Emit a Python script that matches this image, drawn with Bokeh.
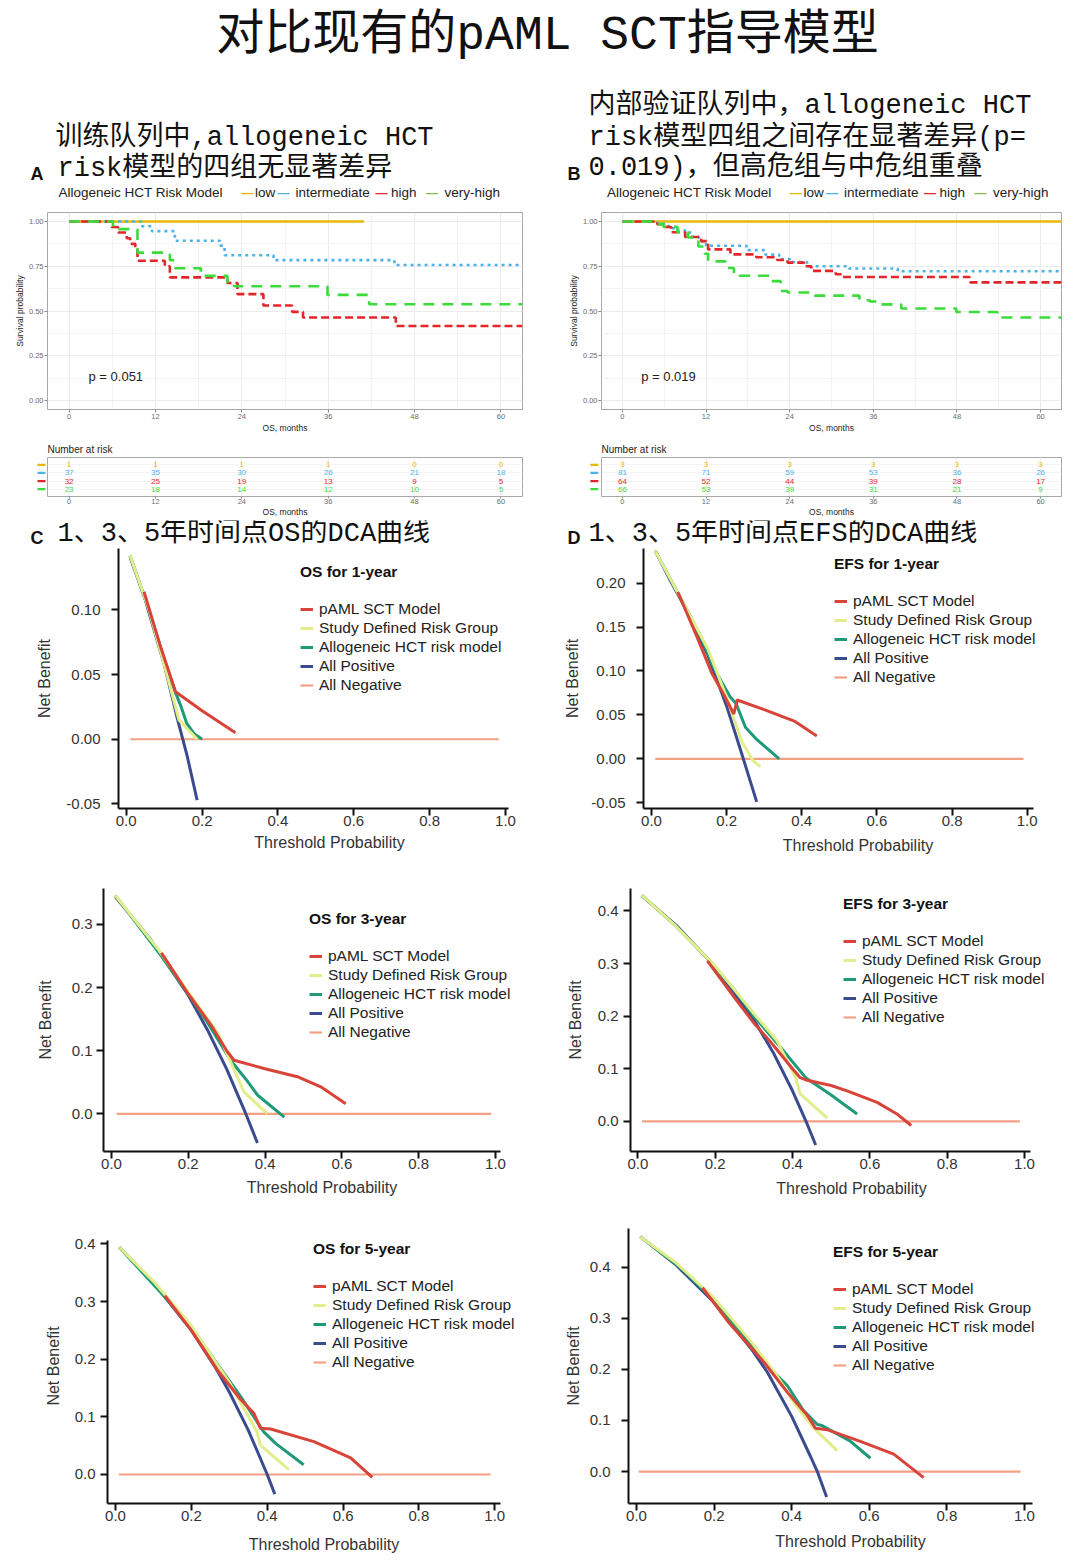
from bokeh.plotting import figure
from bokeh.layouts import column, row
from bokeh.models import (Range1d, FactorRange, FixedTicker, NumeralTickFormatter,
                          Legend, LegendItem)
from bokeh.embed import file_html
from bokeh.resources import INLINE
from bokeh.core.properties import value

# ---------------------------------------------------------------- texts
TITLE = "对比现有的pAML SCT指导模型"
HEAD_A = ["训练队列中,allogeneic HCT", "risk模型的四组无显著差异"]
HEAD_B = ["内部验证队列中，allogeneic HCT", "risk模型四组之间存在显著差异(p=",
          "0.019)，但高危组与中危组重叠"]
HEAD_C = "1、3、5年时间点OS的DCA曲线"
HEAD_D = "1、3、5年时间点EFS的DCA曲线"
KM_LEGEND_TITLE = "Allogeneic HCT Risk Model"
GROUPS = ["low", "intermediate", "high", "very-high"]
PVAL_A = "p = 0.051"
PVAL_B = "p = 0.019"

# ---------------------------------------------------------------- KM data (training, A)
A_LOW_T = [0, 41]
A_LOW_S = [1.0, 1.0]
A_INT_T = [0, 10, 11.5, 14.7, 21, 21.6, 28.4, 45.2, 63]
A_INT_S = [1.0, 0.973, 0.946, 0.892, 0.865, 0.811, 0.784, 0.757, 0.757]
A_HIGH_T = [0, 5.9, 6.8, 8, 8.5, 9.2, 9.5, 13.3, 14, 22, 23.4, 27, 31, 32.5, 45.4, 63]
A_HIGH_S = [1.0, 0.969, 0.938, 0.906, 0.875, 0.844, 0.781, 0.75, 0.688, 0.656, 0.594,
            0.531, 0.495, 0.464, 0.416, 0.416]
A_VH_T = [0, 6.1, 9.5, 14, 14.7, 18.3, 22, 22.9, 35.9, 41.7, 63]
A_VH_S = [1.0, 0.957, 0.826, 0.783, 0.739, 0.696, 0.652, 0.638, 0.59, 0.538, 0.538]

# ---------------------------------------------------------------- KM data (validation, B)
B_LOW_T = [0, 63]
B_LOW_S = [1.0, 1.0]
B_INT_T = [0, 5, 6, 7, 8, 9, 10, 11, 12, 17.8, 20.5, 22.5, 24, 26.5, 32.5, 39.5, 63]
B_INT_S = [1.0, 0.988, 0.975, 0.963, 0.951, 0.938, 0.914, 0.889, 0.864, 0.84, 0.815,
           0.79, 0.774, 0.75, 0.737, 0.722, 0.722]
B_HIGH_T = [0, 5, 6, 7, 9, 11.3, 12.3, 15.5, 19.2, 22.2, 23.7, 26.1, 27.1, 30.6, 31.6, 49.8, 63]
B_HIGH_S = [1.0, 0.984, 0.969, 0.94, 0.913, 0.89, 0.844, 0.816, 0.80, 0.785, 0.77, 0.75,
            0.724, 0.705, 0.69, 0.66, 0.66]
B_VH_T = [0, 4.4, 5.9, 7.9, 9.4, 10.9, 11.8, 12.3, 14.8, 16, 16.8, 21.2, 22.7, 23.7, 27.1,
          34, 35.5, 37, 40, 47.9, 53.8, 63]
B_VH_S = [1.0, 0.985, 0.97, 0.94, 0.91, 0.86, 0.82, 0.777, 0.74, 0.712, 0.697, 0.667, 0.612,
          0.603, 0.586, 0.56, 0.553, 0.537, 0.514, 0.494, 0.464, 0.464]

# ---------------------------------------------------------------- numbers at risk
RISK_TIMES = [0, 12, 24, 36, 48, 60]
A_RISK_LOW = [1, 1, 1, 1, 0, 0]
A_RISK_INT = [37, 35, 30, 26, 21, 18]
A_RISK_HIGH = [32, 25, 19, 13, 9, 5]
A_RISK_VH = [23, 18, 14, 12, 10, 5]
B_RISK_LOW = [3, 3, 3, 3, 3, 3]
B_RISK_INT = [81, 71, 59, 53, 36, 26]
B_RISK_HIGH = [64, 52, 44, 39, 28, 17]
B_RISK_VH = [66, 53, 39, 31, 21, 9]

# ---------------------------------------------------------------- DCA data
DCA_LABELS = ["pAML SCT Model", "Study Defined Risk Group", "Allogeneic HCT risk model",
              "All Positive", "All Negative"]

OS1_PAML_T = [0.047, 0.09, 0.13, 0.2, 0.288]
OS1_PAML_NB = [0.114, 0.072, 0.0367, 0.022, 0.005]
OS1_STUDY_T = [0.01, 0.06, 0.10, 0.139, 0.187]
OS1_STUDY_NB = [0.142, 0.10, 0.058, 0.015, 0.0]
OS1_ALLO_T = [0.01, 0.06, 0.10, 0.13, 0.145, 0.16, 0.18, 0.2]
OS1_ALLO_NB = [0.142, 0.10, 0.062, 0.036, 0.025, 0.012, 0.004, 0.0]
OS1_POS_T = [0.01, 0.05, 0.10, 0.134, 0.16, 0.187]
OS1_POS_NB = [0.141, 0.108, 0.058, 0.017, -0.012, -0.047]
OS1_NEG_T = [0.011, 0.982]

EFS1_PAML_T = [0.07, 0.12, 0.16, 0.19, 0.219, 0.228, 0.30, 0.38, 0.44]
EFS1_PAML_NB = [0.19, 0.14, 0.098, 0.075, 0.051, 0.067, 0.056, 0.043, 0.026]
EFS1_STUDY_T = [0.01, 0.1, 0.15, 0.2, 0.24, 0.27, 0.29]
EFS1_STUDY_NB = [0.237, 0.165, 0.125, 0.07, 0.02, -0.002, -0.009]
EFS1_ALLO_T = [0.01, 0.1, 0.13, 0.17, 0.21, 0.225, 0.25, 0.28, 0.34]
EFS1_ALLO_NB = [0.237, 0.165, 0.14, 0.10, 0.07, 0.063, 0.036, 0.022, 0.0]
EFS1_POS_T = [0.01, 0.05, 0.1, 0.15, 0.2, 0.24, 0.28]
EFS1_POS_NB = [0.237, 0.203, 0.164, 0.118, 0.06, 0.006, -0.049]
EFS1_NEG_T = [0.01, 0.99]

OS3_PAML_T = [0.13, 0.2, 0.26, 0.3, 0.319, 0.397, 0.484, 0.545, 0.61]
OS3_PAML_NB = [0.255, 0.19, 0.14, 0.10, 0.085, 0.072, 0.059, 0.043, 0.016]
OS3_STUDY_T = [0.01, 0.12, 0.2, 0.276, 0.345, 0.406]
OS3_STUDY_NB = [0.346, 0.262, 0.193, 0.129, 0.035, 0.0]
OS3_ALLO_T = [0.01, 0.13, 0.2, 0.25, 0.31, 0.35, 0.38, 0.45]
OS3_ALLO_NB = [0.346, 0.25, 0.19, 0.145, 0.085, 0.055, 0.03, -0.005]
OS3_POS_T = [0.01, 0.1, 0.2, 0.25, 0.3, 0.35, 0.38]
OS3_POS_NB = [0.344, 0.278, 0.188, 0.133, 0.071, 0.0, -0.046]
OS3_NEG_T = [0.013, 0.989]

EFS3_PAML_T = [0.18, 0.25, 0.3, 0.35, 0.4, 0.42, 0.438, 0.5, 0.541, 0.619, 0.67, 0.707]
EFS3_PAML_NB = [0.305, 0.235, 0.187, 0.145, 0.10, 0.083, 0.078, 0.068, 0.058, 0.036, 0.014, -0.008]
EFS3_STUDY_T = [0.01, 0.1, 0.2, 0.3, 0.36, 0.408, 0.42, 0.49]
EFS3_STUDY_NB = [0.43, 0.37, 0.295, 0.205, 0.153, 0.083, 0.052, 0.006]
EFS3_ALLO_T = [0.01, 0.1, 0.18, 0.25, 0.3, 0.37, 0.434, 0.5, 0.567]
EFS3_ALLO_NB = [0.43, 0.37, 0.31, 0.25, 0.2, 0.14, 0.083, 0.05, 0.014]
EFS3_POS_T = [0.01, 0.1, 0.2, 0.3, 0.35, 0.4, 0.435, 0.46]
EFS3_POS_NB = [0.429, 0.372, 0.294, 0.193, 0.131, 0.058, 0.0, -0.045]
EFS3_NEG_T = [0.011, 0.988]

OS5_PAML_T = [0.13, 0.2, 0.27, 0.33, 0.365, 0.382, 0.409, 0.523, 0.62, 0.677]
OS5_PAML_NB = [0.31, 0.25, 0.18, 0.13, 0.106, 0.08, 0.079, 0.057, 0.029, -0.005]
OS5_STUDY_T = [0.01, 0.1, 0.2, 0.3, 0.373, 0.382, 0.457]
OS5_STUDY_NB = [0.394, 0.335, 0.258, 0.16, 0.074, 0.051, 0.0086]
OS5_ALLO_T = [0.01, 0.12, 0.2, 0.27, 0.33, 0.391, 0.422, 0.496]
OS5_ALLO_NB = [0.394, 0.315, 0.255, 0.19, 0.135, 0.074, 0.054, 0.017]
OS5_POS_T = [0.01, 0.1, 0.2, 0.264, 0.3, 0.35, 0.4, 0.42]
OS5_POS_NB = [0.394, 0.333, 0.25, 0.185, 0.143, 0.077, 0.0, -0.034]
OS5_NEG_T = [0.009, 0.989]

EFS5_PAML_T = [0.17, 0.24, 0.328, 0.388, 0.44, 0.461, 0.491, 0.577, 0.663, 0.74]
EFS5_PAML_NB = [0.36, 0.29, 0.2145, 0.156, 0.11, 0.085, 0.082, 0.059, 0.034, -0.012]
EFS5_STUDY_T = [0.01, 0.1, 0.2, 0.3, 0.36, 0.41, 0.457, 0.517]
EFS5_STUDY_NB = [0.46, 0.41, 0.34, 0.25, 0.19, 0.13, 0.085, 0.041]
EFS5_ALLO_T = [0.01, 0.12, 0.18, 0.3, 0.34, 0.388, 0.43, 0.466, 0.478, 0.55, 0.603]
EFS5_ALLO_NB = [0.46, 0.395, 0.35, 0.245, 0.205, 0.169, 0.12, 0.092, 0.09, 0.06, 0.026]
EFS5_POS_T = [0.01, 0.1, 0.2, 0.3, 0.337, 0.4, 0.45, 0.466, 0.49]
EFS5_POS_NB = [0.46, 0.406, 0.331, 0.236, 0.195, 0.108, 0.027, 0.0, -0.05]
EFS5_NEG_T = [0.006, 0.99]

DCA_X_TICKS = [0.0, 0.2, 0.4, 0.6, 0.8, 1.0]

# ---------------------------------------------------------------- styles
SANS = "Liberation Sans"
HEADF = "'Liberation Mono', 'Noto Sans CJK SC'"
KM_COLORS = {"low": "#E7B800", "intermediate": "#4DB3E6", "high": "#E3262A", "very-high": "#3ADB3A"}
KM_KEY_COLORS = {"low": "#E7B800", "intermediate": "#4DB3E6", "high": "#E3262A", "very-high": "#8DBE55"}
KM_DASH = {"low": "solid", "intermediate": "3 4", "high": "8 4", "very-high": "11 8"}
C_PAML, C_STUDY, C_ALLO, C_POS, C_NEG = "#D8433A", "#E2ED8C", "#1E9A78", "#3A4B8E", "#F4A084"


def canvas(w, h):
    p = figure(width=w, height=h, x_range=Range1d(0, w), y_range=Range1d(h, 0),
               toolbar_location=None, output_backend="svg", min_border=0,
               x_axis_location=None, y_axis_location=None)
    p.grid.visible = False
    p.outline_line_color = None
    p.background_fill_color = None
    p.border_fill_color = None
    return p


def put(p, x, y, txt, size, font=SANS, color="#111", style="normal", align="left"):
    p.text(x=[x], y=[y], text=[txt], text_font=value(font), text_font_size=f"{size}px",
           text_color=color, text_font_style=style, text_align=align, text_baseline="middle")


# ---------------------------------------------------------------- band 1: header (0-202)
hdr = canvas(1080, 202)
put(hdr, 547, 35, TITLE, 48, HEADF, "#111", align="center")
put(hdr, 55, 137, HEAD_A[0], 27, HEADF)
put(hdr, 57, 168, HEAD_A[1], 27, HEADF)
put(hdr, 30, 173, "A", 18, SANS, "#111", "bold")
for line, yy in zip(HEAD_B, [105, 137, 167]):
    put(hdr, 588, yy, line, 27, HEADF)
put(hdr, 567, 173, "B", 18, SANS, "#111", "bold")

LEG_OFFS = {"low": (188.7, 196.5), "intermediate": (225, 237), "high": (323, 332.5),
            "very-high": (373.5, 386)}
for x0 in (58, 606.6):
    put(hdr, x0, 192, KM_LEGEND_TITLE, 13.5, SANS, "#222")
    for g in GROUPS:
        dx, lx = LEG_OFFS[g]
        put(hdr, x0 + dx, 192, "—", 12, SANS, KM_KEY_COLORS[g], "bold", align="center")
        put(hdr, x0 + lx, 192, g, 13.5, SANS, "#222")


# ---------------------------------------------------------------- band 2: KM curves (202-436)
def km_fig(width, left, right, curves, pval):
    p = figure(width=width, height=234, x_range=Range1d(-3, 63), y_range=Range1d(-0.05, 1.05),
               toolbar_location=None, output_backend="svg", min_border_left=left,
               min_border_right=right, min_border_top=10, min_border_bottom=27)
    p.xaxis.ticker = FixedTicker(ticks=RISK_TIMES, minor_ticks=[6, 18, 30, 42, 54])
    p.yaxis.ticker = FixedTicker(ticks=[0, 0.25, 0.5, 0.75, 1.0],
                                 minor_ticks=[0.125, 0.375, 0.625, 0.875])
    p.yaxis.formatter = NumeralTickFormatter(format="0.00")
    p.xaxis.axis_label = "OS, months"
    p.yaxis.axis_label = "Survival probability"
    for ax in (p.xaxis, p.yaxis):
        ax.axis_line_color = None
        ax.major_tick_line_color = "#8A8A8A"
        ax.major_tick_out = 3
        ax.major_tick_in = 0
        ax.minor_tick_out = 0
        ax.minor_tick_in = 0
        ax.major_label_text_font = SANS
        ax.major_label_text_font_size = "7.5px"
        ax.major_label_text_color = "#6B6B6B"
        ax.major_label_standoff = 1
        ax.axis_label_text_font = SANS
        ax.axis_label_text_font_size = "8.5px"
        ax.axis_label_text_font_style = "normal"
        ax.axis_label_text_color = "#222"
        ax.axis_label_standoff = 1
    p.grid.grid_line_color = "#EBEBEB"
    p.grid.minor_grid_line_color = "#F4F4F4"
    p.outline_line_color = "#A8A8A8"
    p.outline_line_width = 1
    for g, (t, s) in zip(GROUPS, curves):
        p.step(x=t, y=s, mode="after", line_color=KM_COLORS[g], line_width=2.6,
               line_dash=KM_DASH[g])
    p.text(x=[2.7], y=[0.133], text=[pval], text_font=value(SANS), text_font_size="13px",
           text_color="#222", text_baseline="middle", text_align="left")
    return p


kmA = km_fig(548, 47, 26, [(A_LOW_T, A_LOW_S), (A_INT_T, A_INT_S), (A_HIGH_T, A_HIGH_S),
                           (A_VH_T, A_VH_S)], PVAL_A)
kmB = km_fig(532, 53, 19, [(B_LOW_T, B_LOW_S), (B_INT_T, B_INT_S), (B_HIGH_T, B_HIGH_S),
                           (B_VH_T, B_VH_S)], PVAL_B)

# ---------------------------------------------------------------- band 3: risk tables (436-520)
ROW_ORDER = ["very-high", "high", "intermediate", "low"]


def dash_fig(width, x0, x1):
    p = figure(width=width, height=84, x_range=Range1d(0, 1),
               y_range=FactorRange(factors=ROW_ORDER, range_padding=0.4,
                                   range_padding_units="absolute"),
               toolbar_location=None, output_backend="svg", min_border_left=0,
               min_border_right=0, min_border_top=21, min_border_bottom=24,
               x_axis_location=None, y_axis_location=None)
    p.grid.visible = False
    p.outline_line_color = None
    p.segment(x0=[x0] * 4, x1=[x1] * 4, y0=GROUPS, y1=GROUPS,
              line_color=[KM_COLORS[g] for g in GROUPS], line_width=2.2)
    return p


def table_fig(width, right, counts):
    p = figure(width=width, height=84, x_range=Range1d(-3, 63),
               y_range=FactorRange(factors=ROW_ORDER, range_padding=0.4,
                                   range_padding_units="absolute"),
               toolbar_location=None, output_backend="svg", min_border_left=0,
               min_border_right=right, min_border_top=21, min_border_bottom=24,
               y_axis_location=None, title="Number at risk")
    p.title.align = "left"
    p.title.text_font = SANS
    p.title.text_font_size = "10px"
    p.title.text_font_style = "normal"
    p.title.text_color = "#222"
    p.title.standoff = 5
    p.xaxis.ticker = FixedTicker(ticks=RISK_TIMES)
    p.xaxis.axis_label = "OS, months"
    ax = p.xaxis
    ax.axis_line_color = None
    ax.major_tick_line_color = "#8A8A8A"
    ax.major_tick_out = 2
    ax.major_tick_in = 0
    ax.major_label_text_font = SANS
    ax.major_label_text_font_size = "7.5px"
    ax.major_label_text_color = "#6B6B6B"
    ax.major_label_standoff = 0
    ax.axis_label_text_font = SANS
    ax.axis_label_text_font_size = "8.5px"
    ax.axis_label_text_font_style = "normal"
    ax.axis_label_text_color = "#222"
    ax.axis_label_standoff = 0
    p.xgrid.grid_line_color = "#EFEFEF"
    p.ygrid.grid_line_color = "#F4F4F4"
    p.outline_line_color = "#A8A8A8"
    for g, n in zip(GROUPS, counts):
        p.text(x=RISK_TIMES, y=[g] * len(n), text=[str(v) for v in n], text_font=value(SANS),
               text_font_size="8px", text_color=KM_COLORS[g], text_align="center",
               text_baseline="middle")
    return p


dashA = dash_fig(47, 0.787, 0.957)
tabA = table_fig(501, 26, [A_RISK_LOW, A_RISK_INT, A_RISK_HIGH, A_RISK_VH])
dashB = dash_fig(53, 0.79, 0.94)
tabB = table_fig(479, 19, [B_RISK_LOW, B_RISK_INT, B_RISK_HIGH, B_RISK_VH])

# ---------------------------------------------------------------- band 4: C / D headings (520-548)
cd = canvas(1080, 28)
put(cd, 30, 17, "C", 18, SANS, "#111", "bold")
put(cd, 57, 13, HEAD_C, 27, HEADF)
put(cd, 567, 17, "D", 18, SANS, "#111", "bold")
put(cd, 588, 13, HEAD_D, 27, HEADF)


# ---------------------------------------------------------------- DCA panels
def dca_fig(g, title, curves, neg_t, yticks, yfmt):
    p = figure(width=g["w"], height=g["h"], x_range=Range1d(*g["xr"]), y_range=Range1d(*g["yr"]),
               toolbar_location=None, output_backend="svg", min_border_left=g["l"],
               min_border_right=g["r"], min_border_top=g["t"], min_border_bottom=g["b"])
    p.grid.visible = False
    p.outline_line_color = None
    p.background_fill_color = None
    p.border_fill_color = None
    p.xaxis.ticker = FixedTicker(ticks=DCA_X_TICKS)
    p.xaxis.formatter = NumeralTickFormatter(format="0.0")
    p.yaxis.ticker = FixedTicker(ticks=yticks)
    p.yaxis.formatter = NumeralTickFormatter(format=yfmt)
    p.xaxis.bounds = (g["xr"][0], g["xe"])
    p.yaxis.bounds = (g["yr"][0], g.get("ye", g["yr"][1]))
    p.xaxis.axis_label = "Threshold Probability"
    p.yaxis.axis_label = "Net Benefit"
    for ax in (p.xaxis, p.yaxis):
        ax.axis_line_color = "#111"
        ax.axis_line_width = 2
        ax.major_tick_line_color = "#111"
        ax.major_tick_line_width = 2
        ax.major_tick_out = 7
        ax.major_tick_in = 0
        ax.minor_tick_out = 0
        ax.minor_tick_in = 0
        ax.major_label_text_font = SANS
        ax.major_label_text_font_size = "15px"
        ax.major_label_text_color = "#333"
        ax.axis_label_text_font = SANS
        ax.axis_label_text_font_size = "16px"
        ax.axis_label_text_font_style = "normal"
        ax.axis_label_text_color = "#333"
    p.xaxis.major_label_standoff = g["xs"]
    p.xaxis.axis_label_standoff = g["xa"]
    p.yaxis.major_label_standoff = g["ys"]
    p.yaxis.axis_label_standoff = g["ya"]

    (pt, pn), (st, sn), (at, an), (qt, qn) = curves
    r_neg = p.line(neg_t, [0.0] * len(neg_t), line_color=C_NEG, line_width=2.2)
    r_pos = p.line(qt, qn, line_color=C_POS, line_width=3)
    r_allo = p.line(at, an, line_color=C_ALLO, line_width=3)
    r_study = p.line(st, sn, line_color=C_STUDY, line_width=3)
    r_paml = p.line(pt, pn, line_color=C_PAML, line_width=3)
    items = [LegendItem(label=lab, renderers=[r]) for lab, r in
             zip(DCA_LABELS, [r_paml, r_study, r_allo, r_pos, r_neg])]
    leg = Legend(items=items, location=g["loc"], title=title, title_text_font=SANS,
                 title_text_font_style="bold", title_text_font_size="15.5px",
                 title_text_color="#111", title_standoff=19,
                 label_text_font=SANS, label_text_font_size="15.5px", label_text_color="#222",
                 glyph_width=13, glyph_height=18, label_height=18, spacing=1, padding=0,
                 margin=0, border_line_alpha=0, background_fill_alpha=0, label_standoff=6)
    p.add_layout(leg)
    return p


G_C1 = dict(w=548, h=322, l=118, r=8, t=0, b=58, xr=(-0.0203, 1.0923), xe=1.008,
            yr=(-0.0535, 0.1474), xs=0, xa=5, ys=11, ya=10, loc=(182, 114))
G_D1 = dict(w=532, h=322, l=95, r=8, t=0, b=62, xr=(-0.0213, 1.1206), xe=1.017,
            yr=(-0.0566, 0.2395), xs=0, xa=8, ys=11, ya=7, loc=(191, 122))
G_C2 = dict(w=548, h=342, l=103, r=8, t=18, b=58, xr=(-0.0208, 1.1172), xe=1.013,
            yr=(-0.0595, 0.357), xs=0, xa=7, ys=4, ya=15, loc=(206, 110))
G_D2 = dict(w=532, h=342, l=82, r=8, t=17, b=61, xr=(-0.0189, 1.1241), xe=1.0155,
            yr=(-0.0574, 0.4426), xs=0, xa=8, ys=5, ya=11, loc=(213, 125))
G_C3 = dict(w=548, h=349, l=107, r=8, t=16, b=55, xr=(-0.0211, 1.1205), xe=1.015,
            yr=(-0.0503, 0.4266), ye=0.406, xs=0, xa=12, ys=5, ya=10, loc=(206, 132))
G_D3 = dict(w=532, h=349, l=80, r=8, t=13, b=58, xr=(-0.0206, 1.1237), xe=1.0206,
            yr=(-0.0626, 0.476), xs=0, xa=9, ys=11, ya=5, loc=(205, 129))

c1 = dca_fig(G_C1, "OS for 1-year",
             [(OS1_PAML_T, OS1_PAML_NB), (OS1_STUDY_T, OS1_STUDY_NB),
              (OS1_ALLO_T, OS1_ALLO_NB), (OS1_POS_T, OS1_POS_NB)], OS1_NEG_T,
             [-0.05, 0.0, 0.05, 0.10], "0.00")
d1 = dca_fig(G_D1, "EFS for 1-year",
             [(EFS1_PAML_T, EFS1_PAML_NB), (EFS1_STUDY_T, EFS1_STUDY_NB),
              (EFS1_ALLO_T, EFS1_ALLO_NB), (EFS1_POS_T, EFS1_POS_NB)], EFS1_NEG_T,
             [-0.05, 0.0, 0.05, 0.10, 0.15, 0.20], "0.00")
c2 = dca_fig(G_C2, "OS for 3-year",
             [(OS3_PAML_T, OS3_PAML_NB), (OS3_STUDY_T, OS3_STUDY_NB),
              (OS3_ALLO_T, OS3_ALLO_NB), (OS3_POS_T, OS3_POS_NB)], OS3_NEG_T,
             [0.0, 0.1, 0.2, 0.3], "0.0")
d2 = dca_fig(G_D2, "EFS for 3-year",
             [(EFS3_PAML_T, EFS3_PAML_NB), (EFS3_STUDY_T, EFS3_STUDY_NB),
              (EFS3_ALLO_T, EFS3_ALLO_NB), (EFS3_POS_T, EFS3_POS_NB)], EFS3_NEG_T,
             [0.0, 0.1, 0.2, 0.3, 0.4], "0.0")
c3 = dca_fig(G_C3, "OS for 5-year",
             [(OS5_PAML_T, OS5_PAML_NB), (OS5_STUDY_T, OS5_STUDY_NB),
              (OS5_ALLO_T, OS5_ALLO_NB), (OS5_POS_T, OS5_POS_NB)], OS5_NEG_T,
             [0.0, 0.1, 0.2, 0.3, 0.4], "0.0")
d3 = dca_fig(G_D3, "EFS for 5-year",
             [(EFS5_PAML_T, EFS5_PAML_NB), (EFS5_STUDY_T, EFS5_STUDY_NB),
              (EFS5_ALLO_T, EFS5_ALLO_NB), (EFS5_POS_T, EFS5_POS_NB)], EFS5_NEG_T,
             [0.0, 0.1, 0.2, 0.3, 0.4], "0.0")

layout = column(hdr, row(kmA, kmB), row(dashA, tabA, dashB, tabB), cd,
                row(c1, d1), row(c2, d2), row(c3, d3))

open("out.html", "w").write(file_html(layout, INLINE))
